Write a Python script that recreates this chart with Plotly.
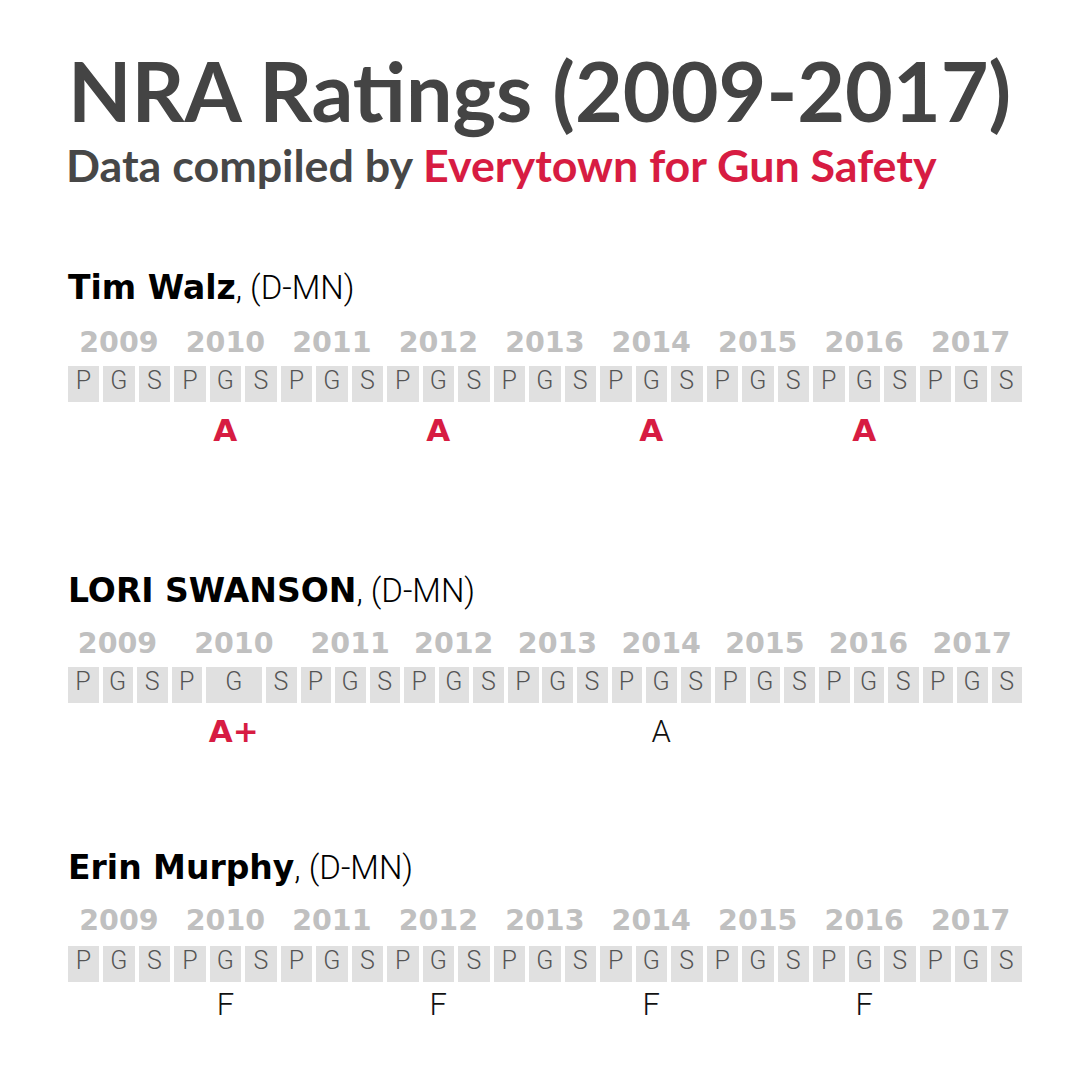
import plotly.graph_objects as go

# ---------------- data ----------------
years = [2009, 2010, 2011, 2012, 2013, 2014, 2015, 2016, 2017]
slots = ["P", "G", "S"]

names = ["Tim Walz", "LORI SWANSON", "Erin Murphy"]
parties = ["(D-MN)", "(D-MN)", "(D-MN)"]

# relative width of each P/G/S cell (Swanson's 2010 G cell is wider)
walz_widths = [1] * 27
swanson_widths = [1, 1, 1, 1, 1.73] + [1] * 22
murphy_widths = [1] * 27

walz_ratings = [(2010, "G", "A"), (2012, "G", "A"), (2014, "G", "A"), (2016, "G", "A")]
walz_highlight = [True, True, True, True]
swanson_ratings = [(2010, "G", "A+"), (2014, "G", "A")]
swanson_highlight = [True, False]
murphy_ratings = [(2010, "G", "F"), (2012, "G", "F"), (2014, "G", "F"), (2016, "G", "F")]
murphy_highlight = [False, False, False, False]

rows = [
    (names[0], parties[0], walz_widths, walz_ratings, walz_highlight),
    (names[1], parties[1], swanson_widths, swanson_ratings, swanson_highlight),
    (names[2], parties[2], murphy_widths, murphy_ratings, murphy_highlight),
]

# ---------------- layout constants ----------------
W = H = 1080
GAP = 0.115                      # gap between cells, in cell units
CELL_PX = 36                     # cell height in px
ROW_CENTER_PX = [384, 685, 964]  # cell-row vertical centre
NAME_PX = [288, 590, 867]
YEAR_OFF = [1.1, 1.1, 1.13]
RATE_OFF = [-1.38, -1.36, -1.2]
X0_PX, X1_PX = 67.7, 1026

CELL_COLOR = "#e0e0e0"
YEAR_COLOR = "#c0c0c0"
LETTER_COLOR = "#555555"
RED = "#d71c42"
TITLE_COLOR = "#444444"

fig = go.Figure()
layout_axes = {}

for r, (name, party, widths, ratings, highlight) in enumerate(rows):
    cells = [(y, s) for y in years for s in slots]
    lefts = []
    acc = 0.0
    for w in widths:
        lefts.append(acc)
        acc += w
    total = acc
    centers = [l + (w - GAP) / 2 for l, w in zip(lefts, widths)]
    bar_w = [w - GAP for w in widths]
    pos = {cells[i]: centers[i] for i in range(len(cells))}
    edges = {cells[i]: (lefts[i], lefts[i] + bar_w[i]) for i in range(len(cells))}

    xa = "x" if r == 0 else f"x{r+1}"
    ya = "y" if r == 0 else f"y{r+1}"

    fig.add_trace(go.Bar(
        x=centers, y=[1] * len(cells), base=-0.5, width=bar_w,
        marker=dict(color=CELL_COLOR, line=dict(width=0)),
        xaxis=xa, yaxis=ya, hoverinfo="skip",
    ))
    fig.add_trace(go.Scatter(
        x=centers, y=[0.03] * len(cells), mode="text",
        text=[s for (_, s) in cells],
        textfont=dict(family="Roboto", size=25, color=LETTER_COLOR, weight=300),
        xaxis=xa, yaxis=ya, hoverinfo="skip",
    ))
    # year labels centred on their three cells
    yc = [(edges[(y, "P")][0] + edges[(y, "S")][1]) / 2 for y in years]
    fig.add_trace(go.Scatter(
        x=yc, y=[YEAR_OFF[r]] * len(years), mode="text",
        text=[str(y) for y in years],
        textfont=dict(family="DejaVu Sans", size=28.5, color=YEAR_COLOR, weight="bold"),
        xaxis=xa, yaxis=ya, hoverinfo="skip",
    ))
    # ratings
    for (yy, ss, grade), hl in zip(ratings, highlight):
        if hl:
            tf = dict(family="DejaVu Sans", size=31, color=RED, weight="bold")
        else:
            tf = dict(family="Roboto", size=31, color="#111111", weight=300)
        fig.add_trace(go.Scatter(
            x=[pos[(yy, ss)]], y=[RATE_OFF[r]], mode="text", text=[grade],
            textfont=tf, xaxis=xa, yaxis=ya, hoverinfo="skip",
        ))

    cy = ROW_CENTER_PX[r]
    half = 2 * CELL_PX
    layout_axes["xaxis" if r == 0 else f"xaxis{r+1}"] = dict(
        domain=[X0_PX / W, X1_PX / W], range=[0, total], visible=False,
        anchor=ya, fixedrange=True)
    layout_axes["yaxis" if r == 0 else f"yaxis{r+1}"] = dict(
        domain=[1 - (cy + half) / H, 1 - (cy - half) / H], range=[-2, 2],
        visible=False, anchor=xa, fixedrange=True)

    fig.add_annotation(
        xref="paper", yref="paper", x=X0_PX / W - 0.002, y=1 - NAME_PX[r] / H,
        xanchor="left", yanchor="middle", showarrow=False,
        text=f"<b>{name}</b><span style='font-family:Roboto;font-weight:300'>, {party}</span>",
        font=dict(family="DejaVu Sans", size=33, color="#000000"),
    )

fig.add_annotation(
    xref="paper", yref="paper", x=66 / W, y=1 - 90 / H, xanchor="left", yanchor="middle",
    showarrow=False, text="<b>NRA Ratings (2009-2017)</b>",
    font=dict(family="Lato", size=82.5, color=TITLE_COLOR),
)
fig.add_annotation(
    xref="paper", yref="paper", x=64 / W, y=1 - 165 / H, xanchor="left", yanchor="middle",
    showarrow=False,
    text=f"<b>Data compiled by <span style='color:{RED}'>Everytown for Gun Safety</span></b>",
    font=dict(family="Lato", size=44.8, color="#474747"),
)

fig.update_layout(
    width=W, height=H, margin=dict(l=0, r=0, t=0, b=0),
    paper_bgcolor="white", plot_bgcolor="white", showlegend=False,
    bargap=0, **layout_axes,
)

fig.write_html("out.html", config={"displayModeBar": False},
               post_script="document.body.style.margin='0';")
